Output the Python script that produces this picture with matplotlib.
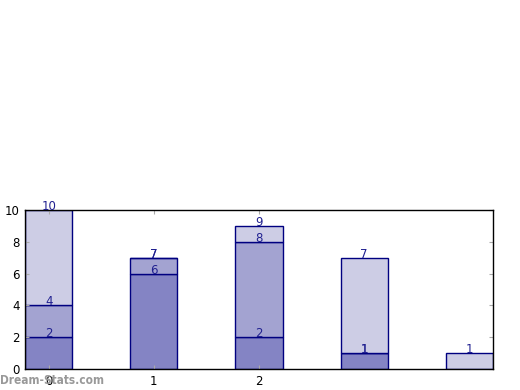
import matplotlib
matplotlib.use("Agg")
import matplotlib.pyplot as plt
import numpy as np

positions = [0, 1, 2, 3, 4]
seg1 = [2, 6, 2, 1, 0]
seg2 = [2, 1, 6, 0, 0]
seg3 = [6, 0, 1, 6, 1]
colors = ["#8484c4", "#a3a3d1", "#cdcde5"]
xtick_labels = ["0", "1", "2"]
yticks = [0, 2, 4, 6, 8, 10]

fig = plt.figure(figsize=(5.2, 3.9), dpi=100)
ax = fig.add_axes([25/520, 21/390, 468/520, 159/390])

width = 0.45
bottom = np.zeros(len(positions))
for seg, c in zip([seg1, seg2, seg3], colors):
    seg = np.array(seg, dtype=float)
    ax.bar(positions, seg, width=width, bottom=bottom, color=c,
           edgecolor="#000080", linewidth=1.0, align="center")
    top = bottom + seg
    for x, t in zip(positions, top):
        if t > 0:
            ax.text(x, t, f"{int(t)}", ha="center", va="baseline",
                    fontsize=8.5, color="#202090")
    bottom = top

ax.set_xlim(-0.225, 4.225)
ax.set_ylim(0, 10)
ax.set_xticks([0, 1, 2])
ax.set_xticklabels(xtick_labels, fontsize=8.5)
ax.set_yticks(yticks)
ax.set_yticklabels([str(v) for v in yticks], fontsize=8.5)
ax.tick_params(direction="in", length=3, color="#aaaaaa", top=True, right=True, pad=4)
for s in ax.spines.values():
    s.set_linewidth(1.0)

fig.text(0.0, 3/390, "Dream-Stats.com", fontsize=8.5, fontweight="semibold",
         family="DejaVu Sans Condensed" if False else "DejaVu Sans",
         color="#999999", ha="left", va="bottom", stretch="condensed")

fig.savefig("out.png", dpi=100)
